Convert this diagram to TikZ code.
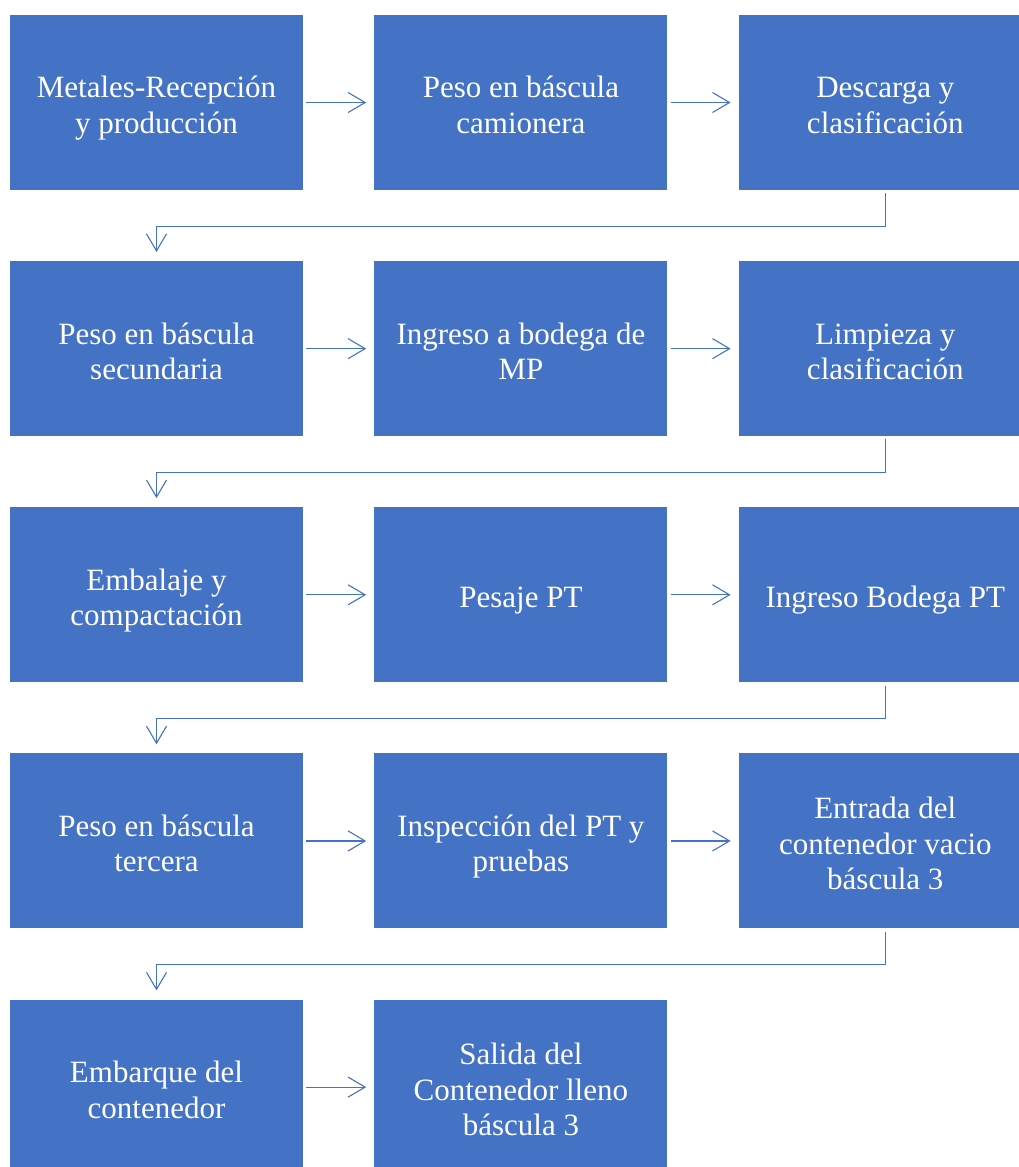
\documentclass[tikz,border=0pt]{standalone}
\usepackage{fontspec}
\setmainfont{Liberation Serif}
\usepackage{xcolor}
\usetikzlibrary{arrows.meta, positioning}
\definecolor{boxblue}{HTML}{4472C4}
\newcommand{\topline}{\rule{0pt}{37pt}}

\begin{document}
\begin{tikzpicture}[x=1pt, y=1pt, node distance=70.75pt and 71pt,
    stepbox/.style={fill=boxblue, draw=none, text=white, align=center,
      minimum width=293pt, minimum height=175pt, inner sep=0pt,
      font=\fontsize{31}{35.5}\selectfont},
    flow/.style={-{Straight Barb[length=17pt, width=20pt]}, boxblue, line width=1.1pt}]
  \useasboundingbox (0,0) rectangle (1019,-1167);
  % Row 1
  \node[stepbox] (r1c1) at (156.5,-102.5) {\topline Metales-Recepción\\ y producción\strut};
  \node[stepbox, right=of r1c1] (r1c2) {\topline Peso en báscula\\camionera\strut};
  \node[stepbox, right=of r1c2] (r1c3) {\topline Descarga y\\clasificación\strut};
  % Row 2
  \node[stepbox, below=of r1c1] (r2c1) {\topline Peso en báscula\\secundaria\strut};
  \node[stepbox, right=of r2c1] (r2c2) {\topline Ingreso a bodega de\\MP\strut};
  \node[stepbox, right=of r2c2] (r2c3) {\topline Limpieza y\\clasificación\strut};
  % Row 3
  \node[stepbox, below=of r2c1] (r3c1) {\topline Embalaje y\\compactación\strut};
  \node[stepbox, right=of r3c1] (r3c2) {\topline Pesaje PT\strut};
  \node[stepbox, right=of r3c2] (r3c3) {\topline Ingreso Bodega PT\strut};
  % Row 4
  \node[stepbox, below=of r3c1] (r4c1) {\topline Peso en báscula\\tercera\strut};
  \node[stepbox, right=of r4c1] (r4c2) {\topline Inspección del PT y\\pruebas\strut};
  \node[stepbox, right=of r4c2] (r4c3) {\topline Entrada del\\contenedor vacio\\báscula 3\strut};
  % Row 5
  \node[stepbox, below=of r4c1] (r5c1) {\topline Embarque del\\contenedor\strut};
  \node[stepbox, right=of r5c1] (r5c2) {\topline Salida del\\Contenedor lleno\\báscula 3\strut};
  % Arrows within rows
  \foreach \r in {1,...,4} {
    \draw[flow] ([xshift=3pt]r\r c1.east) -- ([xshift=-8pt]r\r c2.west);
    \draw[flow] ([xshift=3pt]r\r c2.east) -- ([xshift=-8pt]r\r c3.west);
  }
  \draw[flow] ([xshift=3pt]r5c1.east) -- ([xshift=-8pt]r5c2.west);
  % Return arrows to the next row
  \foreach \r/\n in {1/2, 2/3, 3/4, 4/5} {
    \draw[flow] ([yshift=-3pt]r\r c3.south) -- ++(0,-33pt)
      -| ([yshift=9pt]r\n c1.north);
  }
\end{tikzpicture}
\end{document}
